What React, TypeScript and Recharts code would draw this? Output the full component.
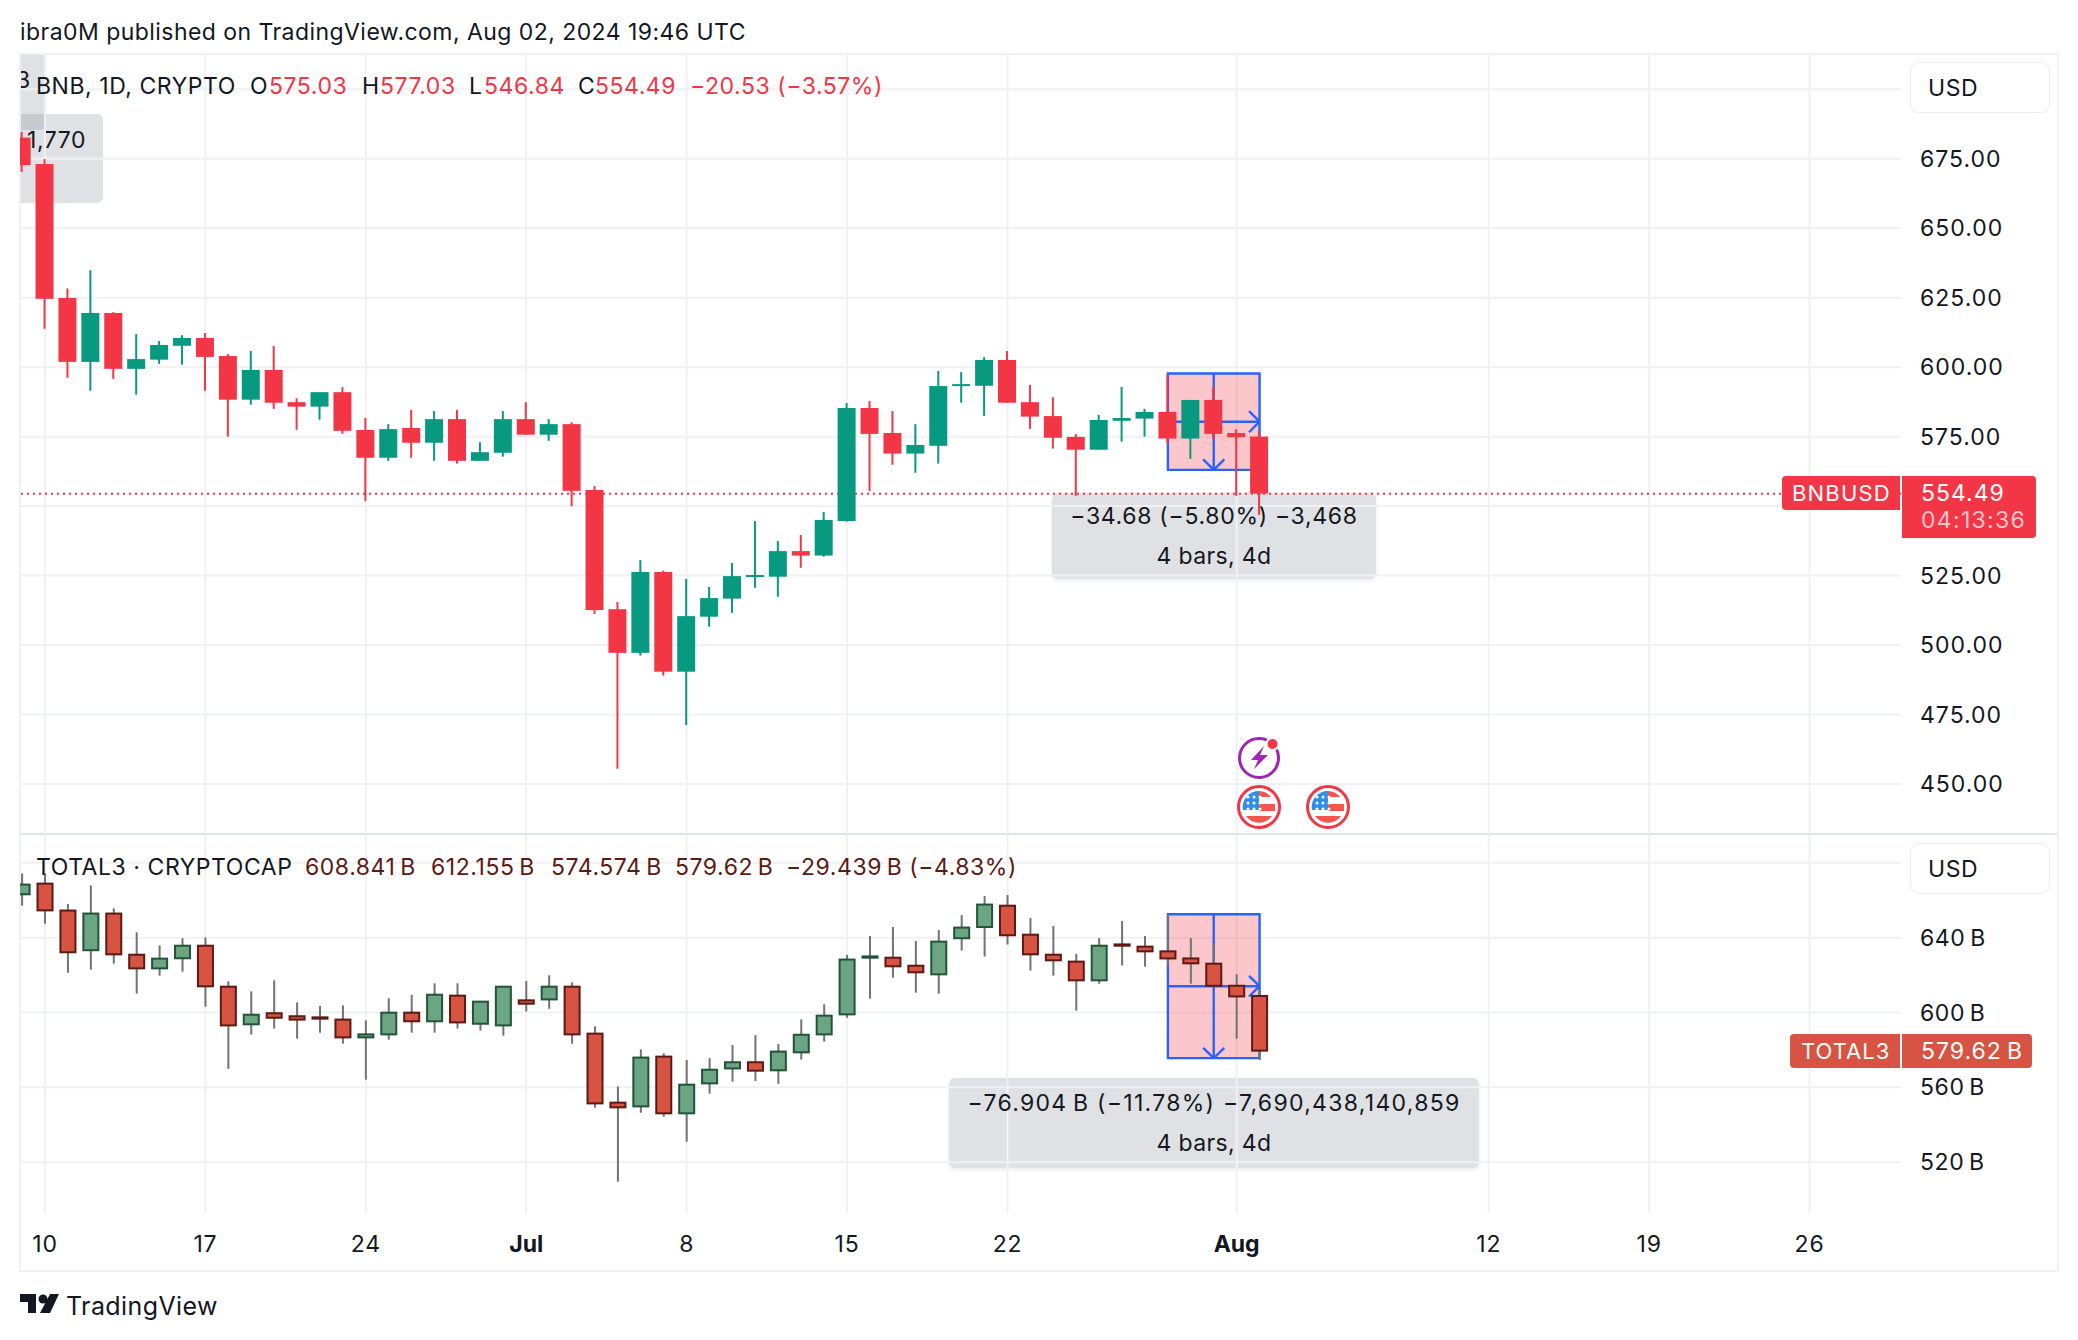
import { Bar, CartesianGrid, ComposedChart, ReferenceArea, ReferenceLine, XAxis, YAxis } from "recharts"

const FONT = "Inter, 'Noto Sans', sans-serif"
const INK = "#131722"
const GRID = "#f0f1f4"
const FRAME = "#eff1f6"
const RED = "#f23645"
const GREEN = "#089981"
const BLUE = "#2962ff"
const T_UP = "#6ba583"
const T_UP_EDGE = "#225437"
const T_DOWN = "#d75442"
const T_DOWN_EDGE = "#5b1a13"
const T_WICK = "#737375"
const CALLOUT = "rgba(120,125,140,0.23)"

// days counted from Jun 10 (first candle is Jun 9, last is Aug 2)
const firstDay = -1
const xTickDays = [0, 7, 14, 21, 28, 35, 42, 52, 63, 70, 77]
const xTickLabels = ["10", "17", "24", "Jul", "8", "15", "22", "Aug", "12", "19", "26"]

const bnbOpen = [682.6, 673.1, 624.9, 601.9, 619.5, 599.4, 602.7, 607.7, 610.5, 604, 588.3, 599, 587.4, 585.8, 591, 577.4, 567.4, 578.1, 572.8, 581.3, 566.3, 569.2, 581.3, 575.7, 579.5, 555.8, 512.9, 497.2, 526.3, 490.4, 510.2, 516.7, 524.6, 524.6, 533.8, 532.2, 544.6, 585.3, 576.3, 568.9, 571.7, 593.4, 593.3, 602.6, 587.4, 582.4, 574.9, 570.3, 580.7, 581.5, 583.9, 574.3, 588.2, 576.3, 575.03]
const bnbHigh = [684.7, 674.9, 628.3, 634.9, 619.8, 611.9, 609.4, 611.5, 612.3, 604.7, 605.8, 607.6, 588.8, 591, 592.8, 581.7, 579.5, 584.6, 584.2, 584.6, 573, 584.2, 587.4, 581.3, 580.2, 557.2, 515.5, 530.6, 526.8, 523.8, 520.9, 529.5, 544.6, 537.4, 539.6, 547.9, 587.1, 587.8, 584.2, 579.5, 598.6, 598.2, 603.6, 605.8, 593.6, 589.2, 575.9, 582.8, 592.9, 585, 597.4, 588.2, 593, 577.7, 577.03]
const bnbLow = [670.3, 613.8, 596.2, 591.5, 595.8, 590.1, 601.2, 600.9, 591.5, 575, 586.5, 585, 577.5, 581.1, 576, 551.8, 566.3, 567.4, 566.3, 565.3, 566.3, 567.8, 575.7, 573.5, 550, 511.2, 455.5, 496.2, 489, 471.2, 506.6, 511.6, 520.6, 517.4, 527.8, 531.8, 544.4, 555.4, 564.9, 562, 565.3, 587.2, 582.5, 587.2, 577.8, 570.7, 553.7, 570.3, 573.2, 575, 572.6, 567, 574, 553.7, 546.84]
const bnbClose = [672.7, 624.6, 601.9, 619.5, 599.4, 602.9, 608, 610.5, 603.7, 588.3, 599, 587.2, 585.8, 591, 577.1, 567.4, 577.7, 572.8, 581.3, 566.3, 569.4, 581.3, 575.7, 579.5, 555.5, 512.6, 497.2, 526.3, 490.4, 510.4, 516.9, 524.8, 525.2, 533.8, 532.2, 545, 585.3, 576, 568.9, 572, 593.2, 593.9, 602.6, 587.2, 582.2, 574.6, 570.3, 581, 581.7, 583.9, 574.3, 588.2, 576, 574.8, 554.49]

const totalOpen = [663.2, 668.9, 654.5, 633.3, 652.9, 630.9, 623.6, 629, 635.7, 613.8, 593.7, 599.6, 598, 597.4, 596.2, 586.7, 588.3, 599.9, 595.3, 609, 594, 593.1, 606.5, 607, 613.8, 588.7, 551.8, 549.8, 576.4, 546.1, 562.1, 570.1, 573.4, 569.1, 578.7, 588.3, 599, 629.3, 629.3, 625, 620.4, 639.7, 645.7, 657.1, 641.6, 630.9, 627.2, 617.2, 636.4, 635.2, 632.7, 628.9, 626.1, 614.3, 608.841]
const totalHigh = [674.4, 674.4, 658, 668, 655.7, 642.9, 635.9, 639.7, 640.2, 616.7, 611.3, 617.2, 605.4, 603.5, 603.8, 595.8, 607.6, 609.4, 615.6, 615.6, 603.5, 609.7, 616.8, 619.9, 616.1, 592.6, 560.5, 580.3, 578.2, 574.6, 575.6, 582.6, 587.9, 583.2, 596.3, 604.4, 630.8, 640.9, 645.7, 638.2, 644.1, 652.1, 662.3, 662.8, 650.5, 646.3, 631.3, 639.8, 648.9, 640.9, 652.9, 639.8, 637, 620.4, 612.155]
const totalLow = [657.1, 647.5, 621.3, 622.9, 626.1, 610.1, 619.7, 621.8, 603.1, 569.9, 588.2, 591.4, 586, 589.2, 583.3, 564.1, 585.5, 589.2, 589.2, 591.4, 590.3, 587.6, 600.5, 602, 583.3, 549.1, 509.5, 546.4, 544.3, 530.9, 556.6, 563, 563.4, 561.9, 574.8, 584.4, 597.2, 607.4, 618.6, 610.6, 610.1, 633.1, 629.9, 636.3, 622.4, 619.7, 601, 615.4, 625.1, 624.5, 625.1, 615.4, 614.3, 586, 574.574]
const totalClose = [668.4, 654.6, 632.2, 652.9, 631.1, 623.6, 628.8, 635.7, 614, 593.1, 598.8, 597.2, 596.2, 596.7, 586.7, 588.3, 599.9, 595.3, 609.5, 594.7, 605.8, 613.8, 604.7, 613.8, 588.3, 551.4, 549.3, 575.9, 546.1, 561.4, 569.4, 573.4, 568.9, 579.1, 588.1, 598.3, 628.3, 630, 624.7, 621.5, 637.9, 645.4, 657.7, 641.3, 631.1, 627.9, 617.2, 635.7, 635.7, 632.7, 628.9, 626.3, 614.3, 608.6, 579.62]

const bnbTicks = [450, 475, 500, 525, 550, 575, 600, 625, 650, 675, 700]
const bnbHiddenTicks = [550, 700] // sit behind the USD button and the last price label
const totalTicks = [520, 560, 600, 640, 680]
const totalHiddenTicks = [680]
const bnbLast = 554.49

const measureFrom = 49
const measureTo = 53
const measureMid = 51
const bnbMeasure = [597.72, 580.38, 563.04]
const totalMeasure = [652.5, 614.05, 575.6]

const toRows = (open: number[], high: number[], low: number[], close: number[]) =>
  open.map((o, i) => ({ day: firstDay + i, open: o, high: high[i], low: low[i], close: close[i] }))

const bnbRows = toRows(bnbOpen, bnbHigh, bnbLow, bnbClose)
const totalRows = toRows(totalOpen, totalHigh, totalLow, totalClose)

// y of a price inside the low-high bar that recharts has scaled for us
function priceY(v: number, p: any) {
  const top = Math.min(p.y, p.y + p.height)
  const h = Math.abs(p.height)
  const { high, low } = p.payload
  return top + ((high - v) / (high - low)) * h
}

function BnbCandle(p: any) {
  const cx = p.x + p.width / 2
  const { open, close, high, low } = p.payload
  const color = close >= open ? GREEN : RED
  const t = priceY(Math.max(open, close), p)
  const b = priceY(Math.min(open, close), p)
  return (
    <g>
      <rect x={cx - 1} width={2} y={priceY(high, p)} height={priceY(low, p) - priceY(high, p)} fill={color} />
      <rect x={cx - 9} width={18} y={t} height={Math.max(b - t, 2)} fill={color} />
    </g>
  )
}

function TotalCandle(p: any) {
  const cx = p.x + p.width / 2
  const { open, close, high, low } = p.payload
  const up = close >= open
  const t = priceY(Math.max(open, close), p)
  const b = priceY(Math.min(open, close), p)
  return (
    <g>
      <rect x={cx - 1} width={2} y={priceY(high, p)} height={priceY(low, p) - priceY(high, p)} fill={T_WICK} />
      <rect x={cx - 7.5} width={15} y={t} height={Math.max(b - t, 1)}
        fill={up ? T_UP : T_DOWN} stroke={up ? T_UP_EDGE : T_DOWN_EDGE} strokeWidth={2} />
    </g>
  )
}

function DayTick(p: any) {
  const i = xTickDays.indexOf(p.payload.value)
  const label = xTickLabels[i]
  const bold = label === "Jul" || label === "Aug"
  return (
    <text x={p.x} y={1244 - 835} textAnchor="middle" dominantBaseline="central" fontFamily={FONT}
      fontSize={23} letterSpacing={bold ? 0 : 0.8} fontWeight={bold ? 700 : 400} fill={INK}>{label}</text>
  )
}

function measureLines(levels: number[], headDx: number, headDy: number) {
  const [top, mid, bottom] = levels
  const segs = [
    [measureFrom, mid, measureTo, mid],
    [measureMid, top, measureMid, bottom],
    [measureTo - headDx, mid + headDy, measureTo, mid],
    [measureTo - headDx, mid - headDy, measureTo, mid],
    [measureMid - headDx, bottom + headDy, measureMid, bottom],
    [measureMid + headDx, bottom + headDy, measureMid, bottom],
  ]
  return segs.map((s, i) => (
    <ReferenceLine key={i} segment={[{ x: s[0], y: s[1] }, { x: s[2], y: s[3] }]} stroke={BLUE} strokeWidth={2.4} zIndex={100} />
  ))
}

function Txt(props: { x: number; y: number; size?: number; color?: string; weight?: number; ls?: number; children: any }) {
  const { x, y, size = 23, color = INK, weight = 400, ls = 0.55, children } = props
  return (
    <div style={{ position: "absolute", left: x, top: y, transform: "translateY(-50%)", fontSize: size, color,
      fontWeight: weight, whiteSpace: "nowrap", lineHeight: 1, fontFamily: FONT, letterSpacing: ls }}>{children}</div>
  )
}

function CalloutBox(props: { left: number; top: number; width: number; height: number }) {
  return (
    <div style={{ position: "absolute", ...props, background: CALLOUT, borderRadius: 6, boxShadow: "0 2px 4px rgba(0,0,0,0.08)" }} />
  )
}

// text sits above the chart so the grid lines do not cut through it
function CalloutText(props: { left: number; top: number; width: number; ls: number; lines: string[] }) {
  const { left, top, width, ls, lines } = props
  const lineGap = 40
  return (
    <>
      {lines.map((l, i) => (
        <div key={l} style={{ position: "absolute", left, top: top + i * lineGap, width, textAlign: "center", transform: "translateY(-50%)",
          fontSize: 23, lineHeight: 1, color: INK, fontFamily: FONT, whiteSpace: "nowrap", letterSpacing: i === 0 ? ls : 0.35 }}>{l}</div>
      ))}
    </>
  )
}

function Flag({ cx, cy }: { cx: number; cy: number }) {
  return (
    <g>
      <circle cx={cx} cy={cy} r={20.5} fill="#fff" stroke={RED} strokeWidth={3} />
      <path d={`M${cx - 16} ${cy + 3} A16 16 0 0 1 ${cx + 0} ${cy - 16} V${cy + 3} Z`} fill="#2f8fe8" />
      <path d={`M${cx} ${cy - 3} H${cx + 16} V${cy + 4} H${cx} Z`} fill="#f4564f" />
      <path d={`M${cx} ${cy - 16} A16 16 0 0 1 ${cx + 12} ${cy - 10} H${cx} Z`} fill="#f4564f" />
      <path d={`M${cx - 13} ${cy + 9} H${cx + 13} A16 16 0 0 1 ${cx - 13} ${cy + 9} Z`} fill="#f4564f" />
      {[-11, -5, 1].map((dx) => [-10, -4, 2].map((dy) => (
        <circle key={`${dx}${dy}`} cx={cx + dx} cy={cy + dy} r={1.5} fill="#fff" />
      )))}
    </g>
  )
}

const xDomain: [number, number] = [-1.09, 80.99]

export default function App() {
  return (
    <div style={{ position: "absolute", left: 0, top: 0, width: 2078, height: 1340, background: "#fff", overflow: "hidden", fontFamily: FONT }}>
      <Txt x={20} y={32} ls={0.45}>ibra0M published on TradingView.com, Aug 02, 2024 19:46 UTC</Txt>

      {/* stale callouts clipped by the left edge, drawn under the candles */}
      <div style={{ position: "absolute", left: 20, top: 54, width: 300, height: 200, overflow: "hidden" }}>
        <div style={{ position: "absolute", left: -60, top: 0, width: 86, height: 76, background: CALLOUT, borderRadius: 6 }} />
        <div style={{ position: "absolute", left: -60, top: 60, width: 143, height: 89, background: CALLOUT, borderRadius: 6 }} />
        <Txt x={-4} y={26}>3</Txt>
        <Txt x={7} y={86}>1,770</Txt>
      </div>
      <CalloutBox left={1052} top={493} width={324} height={86} />
      <CalloutBox left={949} top={1078} width={530} height={90} />

      {/* frame */}
      <div style={{ position: "absolute", left: 19, top: 53, width: 2036, height: 1215, border: `2px solid ${FRAME}`, boxSizing: "content-box" }} />
      <div style={{ position: "absolute", left: 20, top: 833, width: 2037, height: 2, background: "#e0e3eb" }} />

      <div style={{ position: "absolute", left: 20, top: 54 }}>
        <ComposedChart width={2038} height={780} data={bnbRows} margin={{ top: 0, right: 0, bottom: 0, left: 0 }}>
          <CartesianGrid stroke={GRID} strokeWidth={2} syncWithTicks />
          <XAxis dataKey="day" type="number" domain={xDomain} ticks={xTickDays} allowDataOverflow hide interval={0} />
          <YAxis orientation="right" width={157} domain={[432, 712.7]} ticks={bnbTicks} allowDataOverflow interval={0}
            axisLine={false} tickLine={false} tickMargin={13} tick={{ fontSize: 23, fill: INK, fontFamily: FONT, letterSpacing: 1 }}
            tickFormatter={(v: number) => (bnbHiddenTicks.includes(v) ? "" : v.toFixed(2))} />
          <ReferenceArea x1={measureFrom} x2={measureTo} y1={bnbMeasure[0]} y2={bnbMeasure[2]} fill={RED} fillOpacity={0.28} stroke={BLUE} strokeWidth={2.4} zIndex={100} />
          {measureLines(bnbMeasure, 0.46, 3.8)}
          <ReferenceLine y={bnbLast} stroke={RED} strokeWidth={2} strokeDasharray="2 4" zIndex={100} />
          <Bar dataKey={(d: any) => [d.low, d.high]} barSize={18} shape={BnbCandle} isAnimationActive={false} />
        </ComposedChart>
      </div>

      <div style={{ position: "absolute", left: 20, top: 835 }}>
        <ComposedChart width={2038} height={435} data={totalRows} margin={{ top: 0, right: 0, bottom: 0, left: 0 }}>
          <CartesianGrid stroke={GRID} strokeWidth={2} syncWithTicks />
          <XAxis dataKey="day" type="number" domain={xDomain} ticks={xTickDays} allowDataOverflow interval={0} height={57}
            axisLine={false} tickLine={false} tick={DayTick} />
          <YAxis orientation="right" width={157} domain={[492.8, 694.9]} ticks={totalTicks} allowDataOverflow interval={0}
            axisLine={false} tickLine={false} tickMargin={13} tick={{ fontSize: 23, fill: INK, fontFamily: FONT, letterSpacing: 0.6 }}
            tickFormatter={(v: number) => (totalHiddenTicks.includes(v) ? "" : `${v}\u2009B`)} />
          <ReferenceArea x1={measureFrom} x2={measureTo} y1={totalMeasure[0]} y2={totalMeasure[2]} fill={RED} fillOpacity={0.28} stroke={BLUE} strokeWidth={2.4} zIndex={100} />
          {measureLines(totalMeasure, 0.46, 5.5)}
          <Bar dataKey={(d: any) => [d.low, d.high]} barSize={17} shape={TotalCandle} isAnimationActive={false} />
        </ComposedChart>
      </div>

      <CalloutText left={1052} top={516} width={324} ls={0.7} lines={["−34.68 (−5.80%) −3,468", "4 bars, 4d"]} />
      <CalloutText left={949} top={1103} width={530} ls={1.3} lines={["−76.904\u2009B (−11.78%) −7,690,438,140,859", "4 bars, 4d"]} />

      {/* legends */}
      <Txt x={36} y={86}>BNB, 1D, CRYPTO</Txt>
      <Txt x={250} y={86}>O</Txt><Txt x={269} y={86} color={RED}>575.03</Txt>
      <Txt x={362} y={86}>H</Txt><Txt x={380} y={86} color={RED}>577.03</Txt>
      <Txt x={469} y={86}>L</Txt><Txt x={484} y={86} color={RED}>546.84</Txt>
      <Txt x={578} y={86}>C</Txt><Txt x={595} y={86} color={RED}>554.49</Txt>
      <Txt x={690} y={86} color={RED}>−20.53 (−3.57%)</Txt>

      <Txt x={36} y={867}>TOTAL3 · CRYPTOCAP</Txt>
      {["608.841\u2009B", "612.155\u2009B", "574.574\u2009B", "579.62\u2009B", "−29.439\u2009B (−4.83%)"].map((t, i) => (
        <Txt key={t} x={[305, 431, 551, 675, 786][i]} y={867} color={T_DOWN_EDGE}>{t}</Txt>
      ))}

      {/* price scale buttons and last value labels */}
      {[62, 843].map((top) => (
        <div key={top} style={{ position: "absolute", left: 1910, top, width: 140, height: 51, background: "#fff",
          border: "1px solid #e9ecf2", borderRadius: 9, boxSizing: "border-box" }}>
          <Txt x={17} y={25}>USD</Txt>
        </div>
      ))}
      <div style={{ position: "absolute", left: 1782, top: 476, width: 118, height: 34, background: RED, borderRadius: "4px 0 0 4px" }}>
        <Txt x={10} y={17} color="#fff" size={22} ls={1.2}>BNBUSD</Txt>
      </div>
      <div style={{ position: "absolute", left: 1902, top: 476, width: 134, height: 62, background: RED, borderRadius: "0 4px 4px 0" }}>
        <Txt x={19} y={17} color="#fff" ls={1}>554.49</Txt>
        <Txt x={19} y={44} color="#fbc5c9" ls={1.3}>04:13:36</Txt>
      </div>
      <div style={{ position: "absolute", left: 1790, top: 1034, width: 110, height: 34, background: T_DOWN, borderRadius: "4px 0 0 4px" }}>
        <Txt x={11} y={17} color="#fff" size={22} ls={1}>TOTAL3</Txt>
      </div>
      <div style={{ position: "absolute", left: 1902, top: 1034, width: 130, height: 34, background: T_DOWN, borderRadius: "0 4px 4px 0" }}>
        <Txt x={19} y={17} color="#fff" ls={1}>{"579.62\u2009B"}</Txt>
      </div>

      {/* event markers and logo */}
      <svg width={2078} height={1340} style={{ position: "absolute", left: 0, top: 0, pointerEvents: "none" }}>
        <circle cx={1259} cy={758} r={19.5} fill="#fff" stroke="#9c27b0" strokeWidth={3} />
        <path d="M1264 746 L1251 760 H1258 L1254 769 L1268 755 H1260 Z" fill="#9c27b0" />
        <circle cx={1272.5} cy={744} r={6} fill={RED} stroke="#fff" strokeWidth={2} />
        <Flag cx={1259} cy={807} />
        <Flag cx={1328} cy={807} />
        <path d="M20 1294 H36 V1313 H28 V1302 H20 Z" fill={INK} />
        <circle cx={43} cy={1299} r={4.5} fill={INK} />
        <path d="M50 1294 H59 L50 1313 H40 Z" fill={INK} />
      </svg>
      <Txt x={66} y={1306} size={25} ls={0.4}>TradingView</Txt>
    </div>
  )
}
